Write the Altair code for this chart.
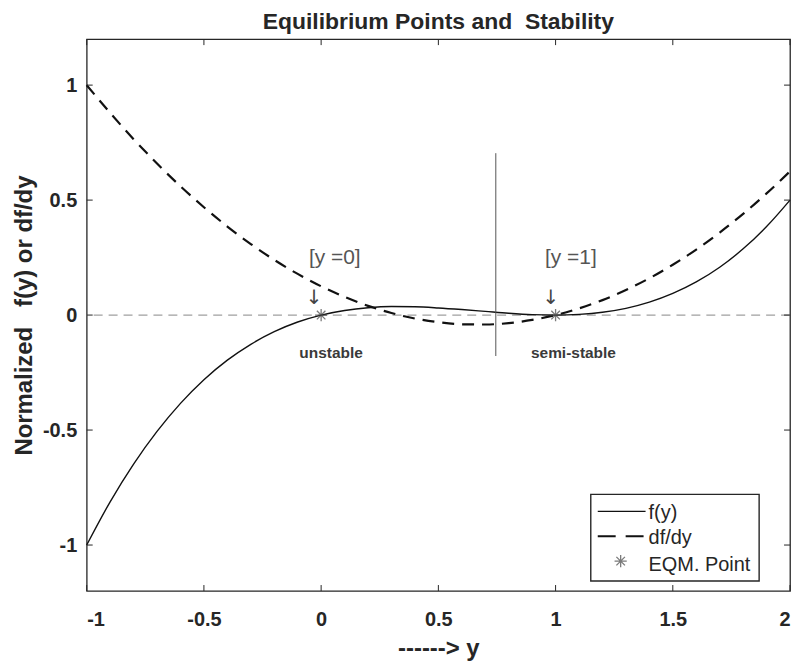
import altair as alt
import pandas as pd

# ---- data ----
y_vals = [-1.0, -0.9, -0.8, -0.7, -0.6, -0.5, -0.4, -0.3, -0.2, -0.1, 0.0,
          0.1, 0.2, 0.3, 0.4, 0.5, 0.6, 0.7, 0.8, 0.9, 1.0,
          1.1, 1.2, 1.3, 1.4, 1.5, 1.6, 1.7, 1.8, 1.9, 2.0]
f_vals = [-1.0, -0.812, -0.648, -0.506, -0.384, -0.281, -0.196, -0.127, -0.072, -0.030, 0.0,
          0.020, 0.032, 0.037, 0.036, 0.031, 0.024, 0.016, 0.008, 0.002, 0.0,
          0.003, 0.012, 0.029, 0.056, 0.094, 0.144, 0.208, 0.288, 0.385, 0.5]
df_vals = [1.0, 0.879, 0.765, 0.659, 0.560, 0.469, 0.385, 0.309, 0.240, 0.179, 0.125,
           0.079, 0.040, 0.009, -0.015, -0.031, -0.040, -0.041, -0.035, -0.021, 0.0,
           0.029, 0.065, 0.109, 0.160, 0.219, 0.285, 0.359, 0.440, 0.529, 0.625]

eq_x = [0, 1]
eq_y = [0, 0]
eq_label = ["[y =0]", "[y =1]"]
eq_label_x = [-0.052, 0.955]
eq_label_y = [0.25, 0.25]
arrow_x = [-0.03, 0.98]
arrow_y = [0.075, 0.075]
stab_label = ["unstable", "semi-stable"]
stab_x = [-0.093, 0.895]
stab_y = [-0.165, -0.165]

vline_x = [0.745]
vline_y1 = [0.704]
vline_y2 = [-0.178]

x_ticks = [-1, -0.5, 0, 0.5, 1, 1.5, 2]
y_ticks = [-1, -0.5, 0, 0.5, 1]

legend_labels = ["f(y)", "df/dy", "EQM. Point"]

W, H = 706, 554
FONT = "Liberation Sans"
TXT = "#262626"

xs = alt.Scale(domain=[-1, 2], nice=False, zero=False)
ys = alt.Scale(domain=[-1.2, 1.2], nice=False, zero=False)

curves = pd.DataFrame({"y": y_vals, "f": f_vals, "df": df_vals})
eq = pd.DataFrame({"x": eq_x, "v": eq_y, "lab": eq_label, "lx": eq_label_x, "ly": eq_label_y,
                   "ax": arrow_x, "ay": arrow_y, "s": stab_label, "sx": stab_x, "sy": stab_y})

X = alt.X("y:Q", scale=xs, axis=alt.Axis(values=x_ticks, ticks=False, labelPadding=19, grid=False,
                                          title="------> y", titlePadding=7, domain=False,
                                          labelExpr="datum.value"))
Y = alt.Y("f:Q", scale=ys, axis=alt.Axis(values=y_ticks, ticks=False, labelPadding=10, grid=False,
                                          title="Normalized\u00a0\u00a0\u00a0f(y) or df/dy",
                                          titlePadding=6, domain=False, labelExpr="datum.value"))

zero = alt.Chart(pd.DataFrame({"z": [0]})).mark_rule(color="#a0a0a0", strokeDash=[9, 6], strokeWidth=1.2).encode(
    y=alt.Y("z:Q", scale=ys))

f_line = alt.Chart(curves).mark_line(color="#111111", strokeWidth=1.4, interpolate="monotone").encode(x=X, y=Y)
df_line = alt.Chart(curves).mark_line(color="#111111", strokeWidth=2.2, strokeDash=[12, 8],
                                      interpolate="monotone").encode(
    x=alt.X("y:Q", scale=xs), y=alt.Y("df:Q", scale=ys))

vline = alt.Chart(pd.DataFrame({"x": vline_x, "a": vline_y1, "b": vline_y2})).mark_rule(
    color="#555555", strokeWidth=1).encode(
    x=alt.X("x:Q", scale=xs), y=alt.Y("a:Q", scale=ys), y2="b:Q")

STAR = "M-1,0L1,0M0,-1L0,1M-0.7,-0.7L0.7,0.7M-0.7,0.7L0.7,-0.7"
pts = alt.Chart(eq).mark_point(shape=STAR, size=150, stroke="#444444", strokeWidth=1.3, filled=False).encode(
    x=alt.X("x:Q", scale=xs), y=alt.Y("v:Q", scale=ys))

lab = alt.Chart(eq).mark_text(align="left", baseline="middle", font=FONT, fontSize=21, color="#555555").encode(
    x=alt.X("lx:Q", scale=xs), y=alt.Y("ly:Q", scale=ys), text="lab:N")
arr = alt.Chart(eq).mark_text(align="center", baseline="middle", font="DejaVu Sans", fontSize=20,
                              text="\u2193").encode(
    x=alt.X("ax:Q", scale=xs), y=alt.Y("ay:Q", scale=ys), color=alt.value("#444444"))
stab = alt.Chart(eq).mark_text(align="left", baseline="middle", font=FONT, fontSize=15.5, fontWeight="bold",
                               color="#3a3a3a").encode(
    x=alt.X("sx:Q", scale=xs), y=alt.Y("sy:Q", scale=ys), text="s:N")

# inward ticks (MATLAB style) on all four sides
xt = pd.DataFrame({"t": x_ticks})
yt = pd.DataFrame({"t": y_ticks})
tb = alt.Chart(xt).mark_rule(color="#262626").encode(x=alt.X("t:Q", scale=xs), y=alt.value(H), y2=alt.value(H - 6))
tt = alt.Chart(xt).mark_rule(color="#262626").encode(x=alt.X("t:Q", scale=xs), y=alt.value(0), y2=alt.value(6))
tl = alt.Chart(yt).mark_rule(color="#262626").encode(y=alt.Y("t:Q", scale=ys), x=alt.value(0), x2=alt.value(6))
tr = alt.Chart(yt).mark_rule(color="#262626").encode(y=alt.Y("t:Q", scale=ys), x=alt.value(W), x2=alt.value(W - 6))

# legend box
one = pd.DataFrame({"k": [0]})
lbox = alt.Chart(one).mark_rect(fill="white", stroke="#262626", strokeWidth=1.4).encode(
    x=alt.value(506), x2=alt.value(675), y=alt.value(457), y2=alt.value(544))
leg_f = alt.Chart(one).mark_rule(color="#111111", strokeWidth=1.4).encode(
    x=alt.value(513), x2=alt.value(561), y=alt.value(474))
leg_df = alt.Chart(one).mark_rule(color="#111111", strokeWidth=2.2, strokeDash=[18, 10]).encode(
    x=alt.value(513), x2=alt.value(559), y=alt.value(499))
leg_pt = alt.Chart(one).mark_point(shape=STAR, size=150, stroke="#444444", strokeWidth=1.3).encode(
    x=alt.value(536), y=alt.value(524))
leg_txt = alt.Chart(pd.DataFrame({"lab": legend_labels, "yy": [476, 501, 528]})).mark_text(
    align="left", baseline="middle", font=FONT, fontSize=20, color=TXT).encode(
    x=alt.value(564), y=alt.Y("yy:Q", scale=None), text="lab:N")

chart = alt.layer(zero, f_line, df_line, vline, pts, lab, arr, stab, tb, tt, tl, tr,
                  lbox, leg_f, leg_df, leg_pt, leg_txt).properties(
    width=W, height=H,
    background="white",
    title=alt.Title("Equilibrium Points and\u00a0\u00a0Stability", font=FONT, fontSize=23, fontWeight="bold",
                    color=TXT, offset=5),
    autosize=alt.AutoSizeParams(type="none"),
    padding={"left": 79, "top": 30, "right": 5, "bottom": 70},
).configure_view(stroke="#262626", strokeWidth=1.3).configure_axis(
    labelFont=FONT, labelFontSize=20, labelFontWeight="bold", labelColor=TXT,
    titleFont=FONT, titleFontSize=24, titleFontWeight="bold", titleColor=TXT,
)

chart.save("out.html", embed_options={"renderer": "svg", "actions": False})
